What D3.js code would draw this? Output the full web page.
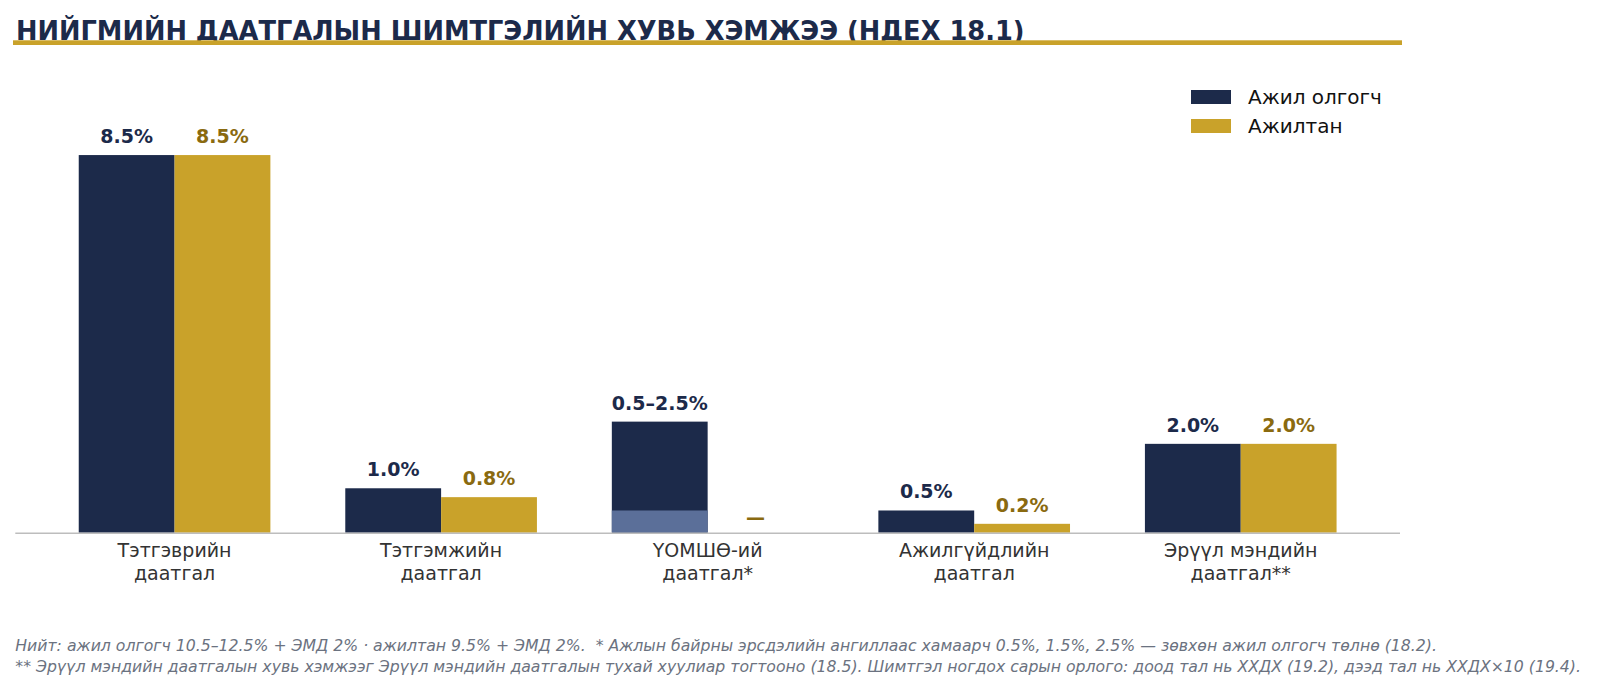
<!DOCTYPE html>
<html>
<head>
<meta charset="utf-8">
<script src="https://cdn.jsdelivr.net/npm/d3@7"></script>
<style>
  body { margin: 0; background: #fff; font-family: "DejaVu Sans", sans-serif; overflow: hidden; }
  svg { display: block; }
</style>
</head>
<body>
<svg id="chart" width="1600" height="692"></svg>
<script>
// Social insurance contribution rates (НДЕХ 18.1)

const categories = [
  ["Тэтгэврийн", "даатгал"],
  ["Тэтгэмжийн", "даатгал"],
  ["ҮОМШӨ-ий", "даатгал*"],
  ["Ажилгүйдлийн", "даатгал"],
  ["Эрүүл мэндийн", "даатгал**"]
];
const seriesNames = ["Ажил олгогч", "Ажилтан"];
// employer: [low, high] — range shown for ҮОМШӨ
const employerLow = [8.5, 1.0, 0.5, 0.5, 2.0];
const employerHigh = [8.5, 1.0, 2.5, 0.5, 2.0];
const employerLabels = ["8.5%", "1.0%", "0.5–2.5%", "0.5%", "2.0%"];
const employeeValues = [8.5, 0.8, null, 0.2, 2.0];
const employeeLabels = ["8.5%", "0.8%", "—", "0.2%", "2.0%"];

const footnotes = [
  "Нийт: ажил олгогч 10.5–12.5% + ЭМД 2% · ажилтан 9.5% + ЭМД 2%.  * Ажлын байрны эрсдэлийн ангиллаас хамаарч 0.5%, 1.5%, 2.5% — зөвхөн ажил олгогч төлнө (18.2).",
  "** Эрүүл мэндийн даатгалын хувь хэмжээг Эрүүл мэндийн даатгалын тухай хуулиар тогтооно (18.5). Шимтгэл ногдох сарын орлого: доод тал нь ХХДХ (19.2), дээд тал нь ХХДХ×10 (19.4)."
];

const navy = "#1c2a4a";
const gold = "#c9a22a";
const goldText = "#8a6a10";
const lightNavy = "#5b6f99";

const svg = d3.select("#chart");

// title + rule
svg.append("text")
  .attr("x", 16).attr("y", 40)
  .attr("font-size", 25.7).attr("font-weight", "bold")
  .attr("fill", navy)
  .text("НИЙГМИЙН ДААТГАЛЫН ШИМТГЭЛИЙН ХУВЬ ХЭМЖЭЭ (НДЕХ 18.1)");
svg.append("rect")
  .attr("x", 13).attr("y", 40.3).attr("width", 1389).attr("height", 4.7)
  .attr("fill", gold);

const x0 = d3.scaleBand()
  .domain(d3.range(categories.length))
  .range([15.3, 1400])
  .paddingInner(0.281)
  .paddingOuter(0.238);
const x1 = d3.scaleBand()
  .domain([0, 1])
  .range([0, x0.bandwidth()]);
const y = d3.scaleLinear()
  .domain([0, 8.5 * 1.1])
  .range([532.7, 117.3]);

const g = svg.append("g");

// employer bars
const emp = g.selectAll("g.emp")
  .data(categories.map((c, i) => i))
  .join("g")
  .attr("transform", i => `translate(${x0(i)},0)`);

emp.append("rect")
  .attr("x", x1(0))
  .attr("y", i => y(employerHigh[i]))
  .attr("width", x1.bandwidth())
  .attr("height", i => y(0) - y(employerHigh[i]))
  .attr("fill", navy);

// lighter lower part for the range bar
emp.filter(i => employerLow[i] !== employerHigh[i])
  .append("rect")
  .attr("x", x1(0))
  .attr("y", i => y(employerLow[i]))
  .attr("width", x1.bandwidth())
  .attr("height", i => y(0) - y(employerLow[i]))
  .attr("fill", lightNavy);

emp.append("text")
  .attr("x", x1(0) + x1.bandwidth() / 2)
  .attr("y", i => y(employerHigh[i]) - 12)
  .attr("text-anchor", "middle")
  .attr("font-size", 19).attr("font-weight", "bold")
  .attr("fill", navy)
  .text(i => employerLabels[i]);

// employee bars
emp.filter(i => employeeValues[i] != null)
  .append("rect")
  .attr("x", x1(1))
  .attr("y", i => y(employeeValues[i]))
  .attr("width", x1.bandwidth())
  .attr("height", i => y(0) - y(employeeValues[i]))
  .attr("fill", gold);

emp.append("text")
  .attr("x", x1(1) + x1.bandwidth() / 2)
  .attr("y", i => employeeValues[i] != null ? y(employeeValues[i]) - 12 : y(0) - 9)
  .attr("text-anchor", "middle")
  .attr("font-size", 19).attr("font-weight", "bold")
  .attr("fill", goldText)
  .text(i => employeeLabels[i]);

// baseline axis
svg.append("line")
  .attr("x1", 15.3).attr("x2", 1400)
  .attr("y1", y(0) + 0.5).attr("y2", y(0) + 0.5)
  .attr("stroke", "#bdbdbd").attr("stroke-width", 1.6);

// category labels
const cat = svg.selectAll("text.cat")
  .data(categories)
  .join("text")
  .attr("class", "cat")
  .attr("x", (d, i) => x0(i) + x0.bandwidth() / 2)
  .attr("y", 557)
  .attr("text-anchor", "middle")
  .attr("font-size", 19)
  .attr("fill", "#333");
cat.selectAll("tspan")
  .data(d => d)
  .join("tspan")
  .attr("x", function () { return this.parentNode.getAttribute("x"); })
  .attr("dy", (d, j) => j === 0 ? 0 : 22.5)
  .text(d => d);

// legend
const legend = svg.append("g").attr("transform", "translate(1191,90)");
seriesNames.forEach((name, i) => {
  legend.append("rect")
    .attr("x", 0).attr("y", i * 29)
    .attr("width", 40).attr("height", 14)
    .attr("fill", i === 0 ? navy : gold);
  legend.append("text")
    .attr("x", 57).attr("y", i * 29 + 14)
    .attr("font-size", 20)
    .attr("fill", "#111")
    .text(name);
});

// footnotes
svg.selectAll("text.note")
  .data(footnotes)
  .join("text")
  .attr("class", "note")
  .attr("x", 15.3)
  .attr("y", (d, i) => 651 + i * 21)
  .attr("font-size", 15.7)
  .attr("font-style", "italic")
  .attr("fill", "#6b7280")
  .style("white-space", "pre")
  .text(d => d);
</script>
</body>
</html>
